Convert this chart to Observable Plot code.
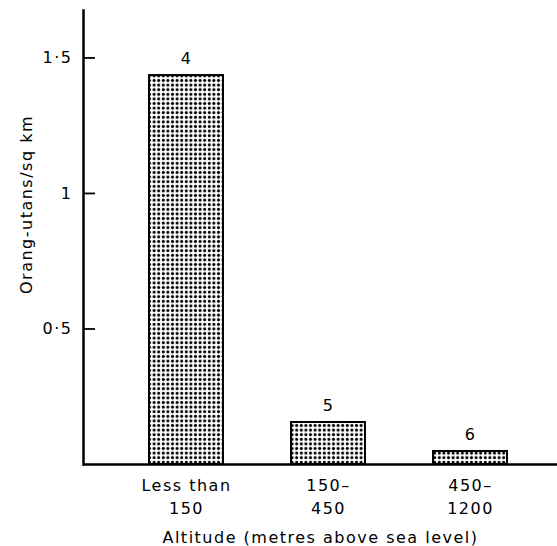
<!DOCTYPE html>
<html>
<head>
<meta charset="utf-8">
<script src="https://cdn.jsdelivr.net/npm/d3@7"></script>
<script src="https://cdn.jsdelivr.net/npm/@observablehq/plot@0.6"></script>
<style>
  html, body { margin: 0; padding: 0; background: #fff; }
  #defs { position: absolute; width: 0; height: 0; }
</style>
</head>
<body>
<svg id="defs" aria-hidden="true">
  <defs>
    <pattern id="dots" width="4.6" height="4.6" patternUnits="userSpaceOnUse">
      <rect width="4.6" height="4.6" fill="#fff"></rect>
      <circle cx="2.3" cy="2.3" r="1.5" fill="#000"></circle>
    </pattern>
  </defs>
</svg>
<div id="chart"></div>
<script>
const categories = ["Less than 150", "150–450", "450–1200"];
const density = [1.435, 0.155, 0.048];
const barNumbers = ["4", "5", "6"];
const xTickLabels = ["Less than\n150", "150–\n450", "450–\n1200"];
const yTicks = [0.5, 1, 1.5];
const yTickLabels = ["0·5", "1", "1·5"];
const xTitle = "Altitude (metres above sea level)";
const yTitle = "Orang-utans/sq km";

const data = categories.map((c, i) => ({cat: c, value: density[i], num: barNumbers[i]}));
const font = "DejaVu Sans, sans-serif";

const chart = Plot.plot({
  width: 557,
  height: 546,
  marginLeft: 83,
  marginRight: 0,
  marginTop: 10,
  marginBottom: 82,
  style: {fontFamily: font, fontSize: "16px", letterSpacing: "1.5px", color: "#000", background: "#fff"},
  x: {domain: categories, range: [114, 541], paddingInner: 0.48, paddingOuter: 0.24, axis: null},
  y: {domain: [0, 1.675], axis: null},
  marks: [
    Plot.rectY(data, {x: "cat", y: "value", fill: "url(#dots)", stroke: "#000", strokeWidth: 2}),
    Plot.text(data, {x: "cat", y: "value", text: "num", dy: -17, lineAnchor: "middle", fontSize: 16}),
    Plot.axisX({tickSize: 0, tickPadding: 10, lineHeight: 1.45, tickFormat: (d) => xTickLabels[categories.indexOf(d)], label: null, fontSize: 16}),
    Plot.axisY({ticks: yTicks, tickSize: -12, strokeWidth: 1.8, text: null, label: null}),
    Plot.axisY({ticks: yTicks, tickSize: 0, tickPadding: 11, tickFormat: d => yTickLabels[yTicks.indexOf(d)], label: null, fontSize: 16}),
    Plot.ruleY([0], {strokeWidth: 2.5}),
    Plot.frame({anchor: "left", strokeWidth: 2.5}),
    Plot.text([xTitle], {frameAnchor: "bottom", dy: 73, dx: 0, textAnchor: "middle", lineAnchor: "middle", fontSize: 16}),
    Plot.text([yTitle], {frameAnchor: "left", dx: -57, dy: -33, rotate: -90, textAnchor: "middle", lineAnchor: "middle", fontSize: 16})
  ]
});
document.getElementById("chart").append(chart);
</script>
</body>
</html>
